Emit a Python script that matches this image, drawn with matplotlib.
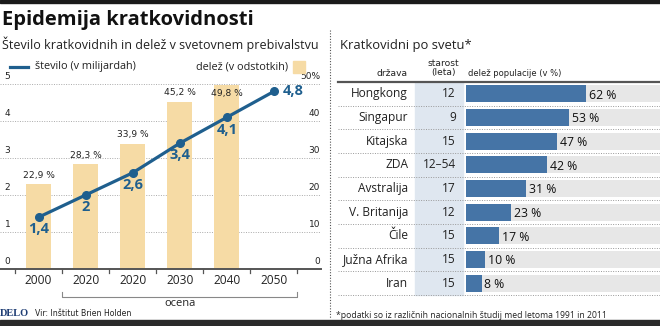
import matplotlib
matplotlib.use("Agg")
from matplotlib import pyplot as plt
from matplotlib.patches import Rectangle
from matplotlib.lines import Line2D

# left chart data
years = ['2000', '2020', '2020', '2030', '2040', '2050']
stevilo = [1.4, 2.0, 2.6, 3.4, 4.1, 4.8]
stevilo_lbl = ['1,4', '2', '2,6', '3,4', '4,1', '4,8']
delez = [22.9, 28.3, 33.9, 45.2, 49.8]
delez_lbl = ['22,9 %', '28,3 %', '33,9 %', '45,2 %', '49,8 %']
left_ticks = [0, 1, 2, 3, 4, 5]
right_ticks = [0, 10, 20, 30, 40, 50]
right_tick_lbl = ['0', '10', '20', '30', '40', '50%']

# right chart data
drzave = ['Hongkong', 'Singapur', 'Kitajska', 'ZDA', 'Avstralija',
          'V. Britanija', 'Čile', 'Južna Afrika', 'Iran']
starost = ['12', '9', '15', '12–54', '17', '12', '15', '15', '15']
populacija = [62, 53, 47, 42, 31, 23, 17, 10, 8]

W, H = 660, 326
BLUE = '#1f5f8e'
BEIGE = '#f6dba5'
BAR2 = '#4574a6'
TXT = '#222222'
NARROW = ['Liberation Sans Narrow', 'DejaVu Sans']
SANS = ['Open Sans', 'DejaVu Sans']

fig = plt.figure(figsize=(W / 100, H / 100), dpi=100)


def box(x0, y0, x1, y1):
    # pixel box (top-left origin) -> figure fraction rect
    return [x0 / W, 1 - y1 / H, (x1 - x0) / W, (y1 - y0) / H]


def ftext(x, y, s, **kw):
    fig.text(x / W, 1 - y / H, s, **kw)


# frame bands and divider
fig.patches.append(Rectangle((0, 1 - 3 / H), 1, 3 / H, transform=fig.transFigure,
                             color='#1a1a1a', zorder=0))
fig.patches.append(Rectangle((0, 0), 1, 6 / H, transform=fig.transFigure,
                             color='#2a2a2a', zorder=0))
fig.lines.append(Line2D([329.5 / W, 329.5 / W], [1 - 30 / H, 1 - 318 / H],
                        transform=fig.transFigure, color='#555555', lw=0.8,
                        ls=(0, (1, 1.5))))

ftext(2, 20, 'Epidemija kratkovidnosti', family=SANS, weight='bold',
      fontsize=14.5, color='#111111', va='center')
ftext(2, 44, 'Število kratkovidnih in delež v svetovnem prebivalstvu',
      family=SANS, fontsize=9.0, color=TXT, va='center')

# ---- left chart
ax = fig.add_axes(box(0, 84, 321, 269))
ax2 = ax.twinx()
xs = list(range(len(years)))
ax.set_xlim(-0.82, 6.0)
ax.set_ylim(0, 5)
ax2.set_ylim(0, 50)
for a in (ax, ax2):
    a.set_axis_off()
ax.set_zorder(ax2.get_zorder() + 1)
ax.patch.set_visible(False)

for t in left_ticks[1:]:
    ax2.plot([-0.82, 6.0], [t * 10, t * 10], color='#aaaaaa', lw=0.7,
             ls=(0, (1, 1.5)), zorder=0)
ax2.bar(xs[:len(delez)], delez, width=0.53, color=BEIGE, zorder=1)
for x, v, s in zip(xs, delez, delez_lbl):
    # the last label has no room above the bar, so it sits inside its top
    y = v + 1.2 if v < 48 else v - 3.5
    ax2.text(x, y, s, ha='center', va='bottom', fontsize=6.6,
             family=NARROW, color=TXT)

ax.plot([-0.82, 6.0], [0, 0], color='#555555', lw=1.4, clip_on=False)
for t in left_ticks:
    ax.text(-0.72, t + 0.07, str(t), ha='left', va='bottom', fontsize=6.5,
            family=NARROW, color=TXT)
for t, s in zip(right_ticks, right_tick_lbl):
    ax2.text(5.98, t + 0.7, s, ha='right', va='bottom', fontsize=6.5,
             family=NARROW, color=TXT)
for b in [i - 0.5 for i in range(len(years) + 1)]:
    ax.plot([b, b], [0, -0.12], color='#555555', lw=0.9, clip_on=False)
for x, s in zip(xs, years):
    ax.text(x, -0.32, s, ha='center', va='center', fontsize=8.6,
            family=SANS, color=TXT)
# bracket for estimates
ax.plot([0.5, 0.5, 5.5, 5.5], [-0.62, -0.75, -0.75, -0.62], color='#888888',
        lw=0.8, clip_on=False)
ax.text(3.0, -0.93, 'ocena', ha='center', va='center', fontsize=8,
        family=SANS, color=TXT)

ax.plot(xs, stevilo, color=BLUE, lw=2.3, marker='o', markersize=5.5,
        zorder=3, clip_on=False)
for x, v, s in zip(xs, stevilo, stevilo_lbl):
    if x == len(xs) - 1:
        ax.text(x + 0.18, v, s, ha='left', va='center', fontsize=10.5,
                weight='bold', color=BLUE, family=SANS)
    else:
        ax.text(x, v - 0.33, s, ha='center', va='center', fontsize=10.5,
                weight='bold', color=BLUE, family=SANS)

# legend
fig.lines.append(Line2D([10 / W, 28 / W], [1 - 67 / H, 1 - 67 / H],
                        transform=fig.transFigure, color=BLUE, lw=2.3))
ftext(35, 67, 'število (v milijardah)', family=SANS, fontsize=7.8,
      color=TXT, va='center')
ftext(288, 67, 'delež (v odstotkih)', family=SANS, fontsize=7.8,
      color=TXT, va='center', ha='right')
fig.patches.append(Rectangle((293 / W, 1 - 73 / H), 12 / W, 12 / H,
                             transform=fig.transFigure, color=BEIGE))

ftext(0, 314, 'DELO', family=['Liberation Serif', 'DejaVu Serif'],
      weight='bold', fontsize=7.5, color='#1d3c73', va='center')
ftext(35, 314, 'Vir: Inštitut Brien Holden', family=NARROW, fontsize=5.6,
      color=TXT, va='center')

# ---- right chart
ftext(340, 46, 'Kratkovidni po svetu*', family=SANS, fontsize=9.4,
      color=TXT, va='center')
bx = fig.add_axes(box(466, 82, 660, 295))
n = len(drzave)
rows = list(range(n))
bx.set_xlim(0, 100)
bx.set_ylim(n - 0.5, -0.5)
bx.set_axis_off()
tr = bx.get_yaxis_transform()

x_l = (338 - 466) / 194
bx.add_patch(Rectangle(((415 - 466) / 194, -0.5), (463 - 415) / 194, n,
                       transform=tr, color='#dfe7f0', clip_on=False, zorder=0))
bx.barh(rows, [100] * n, height=0.72, color='#e7e7e7', zorder=1)
bx.barh(rows, populacija, height=0.72, color=BAR2, zorder=2)
for r in rows:
    bx.plot([x_l, 1], [r + 0.5, r + 0.5], transform=tr, color='#999999',
            lw=0.7, ls=(0, (1, 1.5)), clip_on=False)
    bx.text((408 - 466) / 194, r, drzave[r], transform=tr, ha='right',
            va='center', fontsize=8.6, family=SANS, color=TXT)
    bx.text((456 - 466) / 194, r, starost[r], transform=tr, ha='right',
            va='center', fontsize=8.6, family=SANS, color=TXT)
    bx.text(populacija[r] + 1.5, r + 0.05, f'{populacija[r]} %', ha='left',
            va='center', fontsize=8.8, family=SANS, color='#111111', zorder=3)
bx.plot([x_l, 1], [-0.5, -0.5], transform=tr, color='#555555', lw=1.6,
        clip_on=False)

ftext(408, 74, 'država', family=NARROW, fontsize=6.6, color=TXT,
      ha='right', va='center')
ftext(443, 68, 'starost\n(leta)', family=NARROW, fontsize=6.6, color=TXT,
      ha='center', va='center', linespacing=1.1)
ftext(468, 74, 'delež populacije (v %)', family=NARROW, fontsize=6.0,
      color=TXT, ha='left', va='center')
ftext(336, 315, '*podatki so iz različnih nacionalnih študij med letoma 1991 in 2011',
      family=SANS, fontsize=6.2, color=TXT, va='center')

fig.savefig('out.png', dpi=100)
